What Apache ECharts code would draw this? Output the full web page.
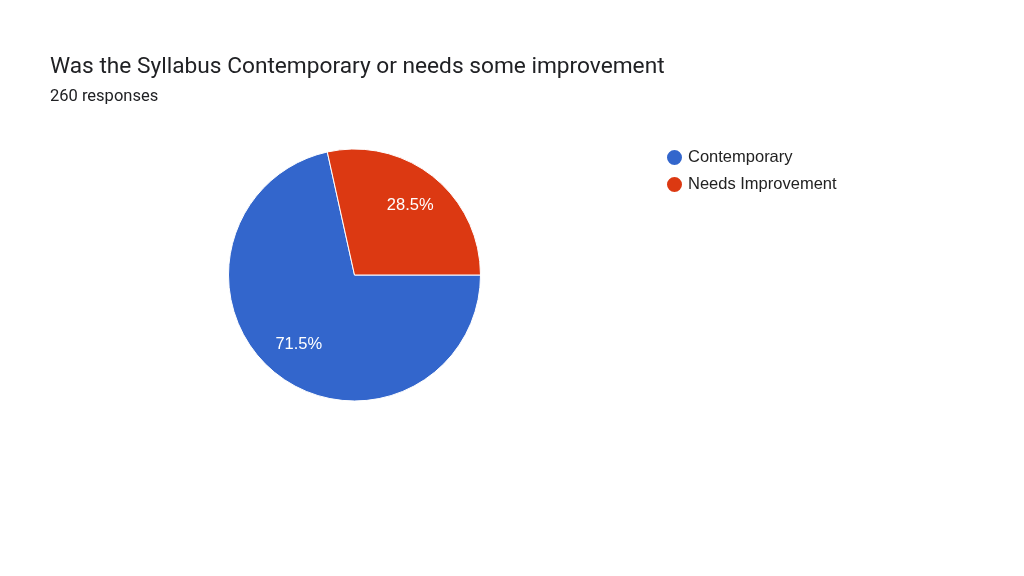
<!DOCTYPE html>
<html><head><meta charset="utf-8">
<script src="https://cdn.jsdelivr.net/npm/echarts@6/dist/echarts.min.js"></script>
<style>html,body{margin:0;padding:0;background:#fff}#c{width:1024px;height:576px}</style>
</head><body><div id="c"></div>
<script>
const categories = ["Contemporary", "Needs Improvement"];
const values = [186, 74];
const colors = ["#3366cc", "#dc3912"];
const titleText = "Was the Syllabus Contemporary or needs some improvement";
const subtitleText = "260 responses";

const chart = echarts.init(document.getElementById('c'));
const pieData = categories.map((c, i) => ({ name: c, value: values[i], itemStyle: { color: colors[i] } }));
chart.setOption({
  backgroundColor: '#fff',
  animation: false,
  title: {
    text: titleText,
    subtext: subtitleText,
    left: 45, top: 51,
    itemGap: 9,
    textStyle: { fontFamily: 'Roboto', fontSize: 22.7, fontWeight: 'normal', color: '#202124' },
    subtextStyle: { fontFamily: 'Roboto', fontSize: 16.5, color: '#202124' }
  },
  legend: {
    orient: 'vertical',
    left: 660, top: 143,
    icon: 'circle',
    itemWidth: 17, itemHeight: 17,
    itemGap: 8,
    data: categories,
    textStyle: { fontFamily: 'Liberation Sans', fontSize: 16.5, color: '#222' }
  },
  series: [{
    type: 'pie',
    center: [354.5, 275],
    radius: [0, 126],
    startAngle: 0,
    clockwise: true,
    itemStyle: { borderColor: '#fff', borderWidth: 1 },
    label: { show: false },
    labelLine: { show: false },
    data: pieData
  }, {
    type: 'pie',
    center: [354.5, 275],
    radius: [46, 126],
    startAngle: 0,
    clockwise: true,
    silent: true,
    itemStyle: { color: 'transparent', borderWidth: 0 },
    label: {
      position: 'inside',
      formatter: p => p.percent.toFixed(1) + '%',
      fontFamily: 'Liberation Sans', fontSize: 16.5, color: '#fff'
    },
    labelLine: { show: false },
    data: categories.map((c, i) => ({ name: c, value: values[i], itemStyle: { color: 'transparent' } }))
  }]
});
</script></body></html>
